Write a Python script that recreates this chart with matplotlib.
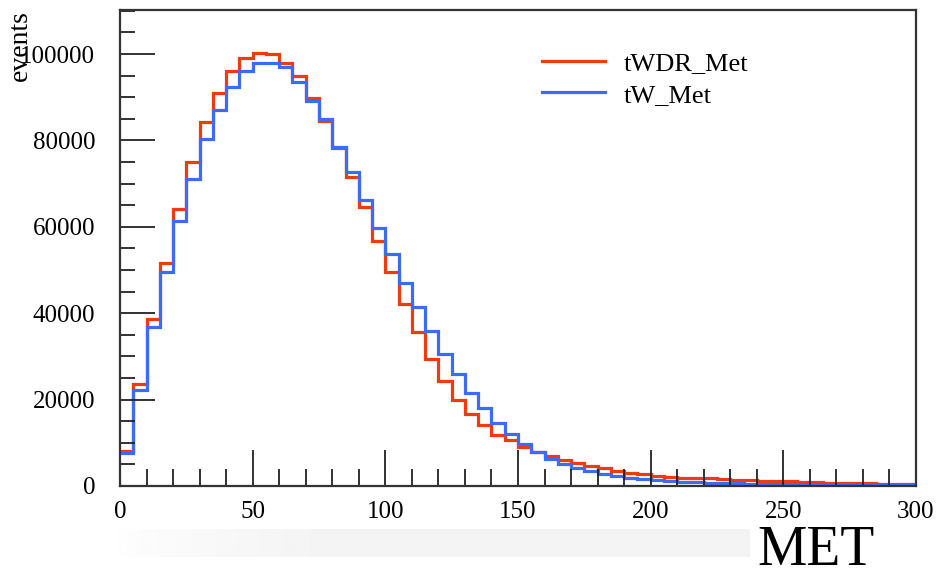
import numpy as np
import matplotlib
matplotlib.use("Agg")
import matplotlib.pyplot as plt

# MET histograms, 60 bins of 5 from 0 to 300
bin_edges = np.arange(0, 305, 5)

twdr_met = [8170, 23600, 38650, 51550, 64120, 75070, 84260, 90900, 96000, 99000,
            100160, 99930, 97850, 94900, 89900, 84490, 78170, 71600, 64510, 56790,
            49460, 42060, 35720, 29400, 24300, 19900, 16590, 14050, 11800, 10650,
            9100, 7940, 6940, 6020, 5400, 4700, 4090, 3540, 3080, 2700,
            2310, 2160, 1930, 1780, 1780, 1650, 1500, 1380, 1250, 1150,
            1050, 960, 880, 810, 740, 680, 620, 570, 520, 480]

tw_met = [7700, 22200, 36900, 49540, 61270, 71060, 80250, 86970, 92430, 96000,
          97850, 97850, 96920, 93440, 89120, 84880, 78550, 72600, 66200, 59800,
          53630, 46920, 41510, 35880, 30560, 25930, 21450, 18130, 14510, 12040,
          9720, 7940, 6250, 5090, 4240, 3540, 2780, 2310, 1780, 1540,
          1390, 1160, 1000, 850, 800, 720, 620, 540, 470, 410,
          360, 320, 280, 250, 220, 200, 180, 160, 140, 130]

series_names = ["tWDR_Met", "tW_Met"]
red = "#f23a0c"
blue = "#3c6cf7"

fig = plt.figure(figsize=(9.39, 5.77), dpi=100)
ax = fig.add_axes([120/939, 1 - 486/577, 796/939, 476/577])

ax.stairs(twdr_met, bin_edges, baseline=None, color=red, lw=2.3, label=series_names[0])
ax.stairs(tw_met, bin_edges, baseline=None, color=blue, lw=2.3, label=series_names[1])

ax.set_xlim(0, 300)
ax.set_ylim(0, 110200)

serif = ["Liberation Serif", "DejaVu Serif"]

ax.set_xticks(np.arange(0, 301, 50))
ax.set_xticks(np.arange(0, 301, 10), minor=True)
ax.set_yticks(np.arange(0, 100001, 20000))
ax.set_yticks(np.arange(0, 110001, 5000), minor=True)
ax.tick_params(axis="both", which="both", direction="in", top=False, right=False,
               color="#222222", width=1.3)
ax.tick_params(axis="x", which="major", length=26, pad=11)
ax.tick_params(axis="x", which="minor", length=12)
ax.tick_params(axis="y", which="major", length=25, pad=18)
ax.tick_params(axis="y", which="minor", length=11)
for lab in ax.get_xticklabels() + ax.get_yticklabels():
    lab.set_family(serif)
    lab.set_fontsize(18)

for sp in ax.spines.values():
    sp.set_color("#333333")
    sp.set_linewidth(1.6)

fig.text(20/939, 1 - 10/577, "events", rotation=90, ha="center", va="top",
         fontsize=20, family=serif)

# faint gray band under the x axis
band = fig.add_axes([110/939, 1 - 557/577, 640/939, 28/577])
grad = np.linspace(0, 1, 256)
grad = np.clip(grad * 3, 0, 1) ** 0.7
band.imshow(1 - 0.045 * grad[None, :], aspect="auto", cmap="gray", vmin=0, vmax=1)
band.axis("off")

fig.text(757/939, 0.0, "MET", ha="left", va="bottom",
         fontsize=40, family=serif)

leg = ax.legend(loc="upper left", bbox_to_anchor=(398/796, 1 - 18/476), frameon=False,
                prop={"family": serif, "size": 19}, handlelength=2.4,
                handletextpad=0.7, labelspacing=0.3)

fig.savefig("out.png", dpi=100)
